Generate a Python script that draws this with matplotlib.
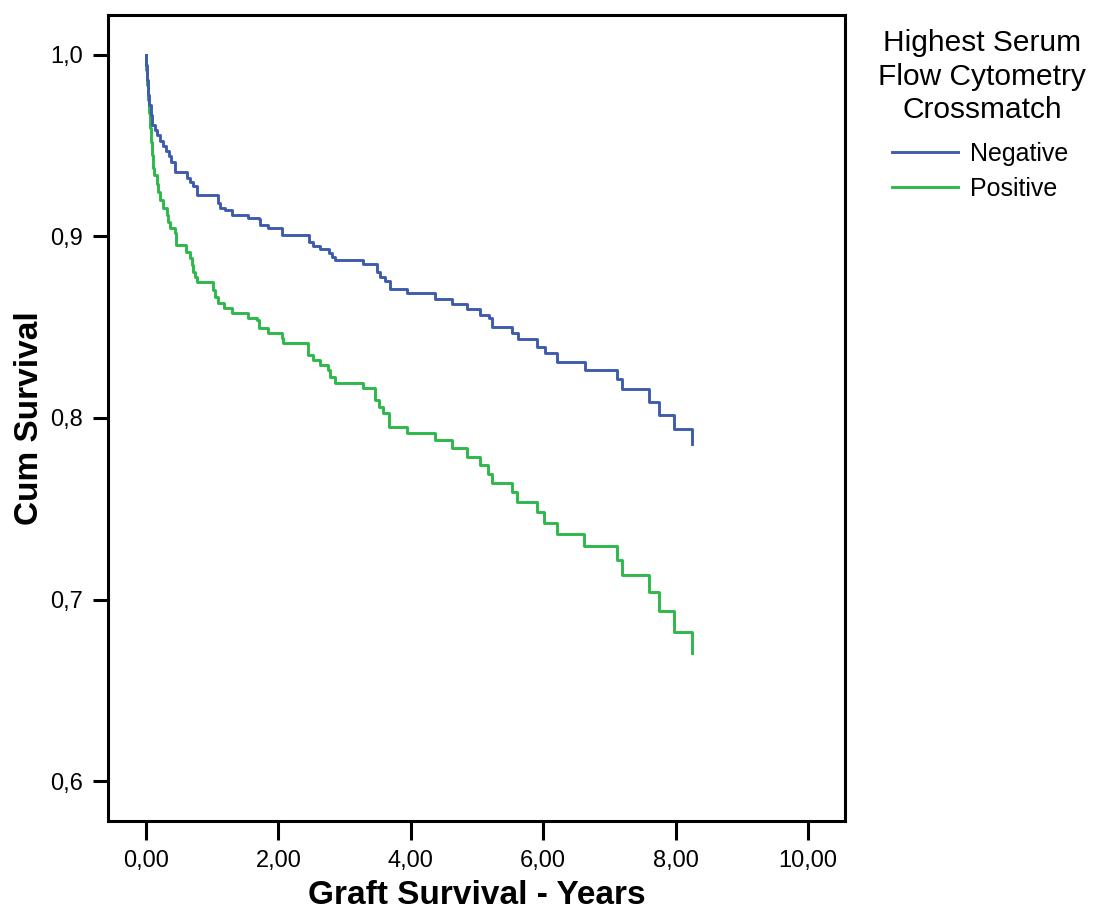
import numpy as np, matplotlib; matplotlib.use("Agg")
import matplotlib.pyplot as plt

plt.rcParams['font.family'] = ['Liberation Sans', 'DejaVu Sans']

# Kaplan-Meier steps: time (years) and survival after each drop
neg_t = [0, 0.008, 0.015, 0.03, 0.045, 0.076, 0.098, 0.136, 0.166, 0.21, 0.257, 0.30, 0.347, 0.378, 0.438,
         0.627, 0.665, 0.71, 0.77, 1.088, 1.118, 1.193, 1.295, 1.545, 1.70, 1.722, 1.85, 2.054, 2.462, 2.523,
         2.628, 2.764, 2.81, 2.855, 3.278, 3.485, 3.535, 3.61, 3.686, 3.938, 4.366, 4.618, 4.845, 5.053, 5.18,
         5.234, 5.524, 5.624, 5.911, 6.027, 6.204, 6.631, 7.119, 7.195, 7.603, 7.754, 7.976, 8.252]
neg_s = [1.0, 0.9945, 0.9862, 0.978, 0.9725, 0.967, 0.9614, 0.9587, 0.956, 0.9526, 0.9499, 0.9471, 0.9444, 0.941,
         0.9357, 0.9322, 0.930, 0.9278, 0.9229, 0.9185, 0.9157, 0.9146, 0.9118, 0.910, 0.9094, 0.9063, 0.9045,
         0.9008, 0.8971, 0.8949, 0.8929, 0.8909, 0.8889, 0.887, 0.8848, 0.8806, 0.8779, 0.8756, 0.8711, 0.8689,
         0.8657, 0.8628, 0.8599, 0.8567, 0.8551, 0.8503, 0.8467, 0.8434, 0.8393, 0.8356, 0.831, 0.8264, 0.8213,
         0.8158, 0.809, 0.8017, 0.7941, 0.7857]

pos_t = [0, 0.005, 0.015, 0.03, 0.045, 0.06, 0.076, 0.09, 0.106, 0.12, 0.162, 0.189, 0.21, 0.261, 0.313, 0.34,
         0.363, 0.446, 0.453, 0.612, 0.665, 0.69, 0.714, 0.74, 0.766, 1.017, 1.042, 1.092, 1.178, 1.295, 1.545,
         1.684, 1.707, 1.847, 2.05, 2.074, 2.452, 2.527, 2.628, 2.754, 2.779, 2.855, 3.282, 3.459, 3.524, 3.585,
         3.675, 3.943, 4.366, 4.618, 4.849, 5.05, 5.166, 5.231, 5.524, 5.609, 5.911, 6.017, 6.204, 6.621, 7.119,
         7.195, 7.603, 7.754, 7.976, 8.252]
pos_s = [1.0, 0.9917, 0.9835, 0.9752, 0.968, 0.9598, 0.952, 0.9449, 0.9377, 0.9339, 0.9289, 0.9245, 0.9201,
         0.9155, 0.9118, 0.908, 0.9045, 0.9018, 0.8953, 0.8916, 0.888, 0.8843, 0.8806, 0.8777, 0.8751, 0.8705,
         0.8667, 0.8632, 0.8604, 0.8577, 0.8549, 0.854, 0.8494, 0.8467, 0.8439, 0.8412, 0.8347, 0.832, 0.8292,
         0.8264, 0.8228, 0.8194, 0.8164, 0.8099, 0.8062, 0.8026, 0.7953, 0.7919, 0.7876, 0.7832, 0.7787, 0.7741,
         0.7694, 0.7644, 0.7592, 0.7537, 0.7482, 0.7423, 0.7361, 0.7296, 0.7218, 0.7135, 0.704, 0.6937, 0.6823,
         0.6704]

xticks = [0, 2, 4, 6, 8, 10]
yticks = [0.6, 0.7, 0.8, 0.9, 1.0]

fig = plt.figure(figsize=(10.95, 9.13), dpi=100)
ax = fig.add_axes([0.0986, 0.1008, 0.6731, 0.8828])
ax.step(pos_t, pos_s, where='post', color='#2DB84A', lw=2.1, label='Positive', zorder=2)
ax.step(neg_t, neg_s, where='post', color='#3F5BAE', lw=2.1, label='Negative', zorder=3)

ax.set_xlim(-0.574, 10.559); ax.set_ylim(0.578, 1.022)
ax.set_xticks(xticks); ax.set_xticklabels([f"{v:.2f}".replace('.', ',') for v in xticks], fontsize=17)
ax.set_yticks(yticks); ax.set_yticklabels([f"{v:.1f}".replace('.', ',') for v in yticks], fontsize=17)
ax.tick_params(axis='x', length=14, width=2.2, pad=7)
ax.tick_params(axis='y', length=11, width=2.2, pad=7)
for sp in ax.spines.values(): sp.set_linewidth(2.2)
ax.set_xlabel("Graft Survival - Years", fontsize=24, fontweight='bold', labelpad=6)
ax.set_ylabel("Cum Survival", fontsize=24, fontweight='bold', labelpad=4)

h, l = ax.get_legend_handles_labels()
fig.text(982/1095, 1-29/913, "Highest Serum\nFlow Cytometry\nCrossmatch", fontsize=21.5,
         ha='center', va='top', multialignment='center', linespacing=1.26)
ax.legend(h[::-1], l[::-1], frameon=False, fontsize=18, loc='upper left',
          bbox_to_anchor=(892/1095, 1-142/913), bbox_transform=fig.transFigure,
          borderpad=0, borderaxespad=0, handlelength=2.64, handletextpad=0.5, labelspacing=0.42)
fig.savefig("out.png", dpi=100)
